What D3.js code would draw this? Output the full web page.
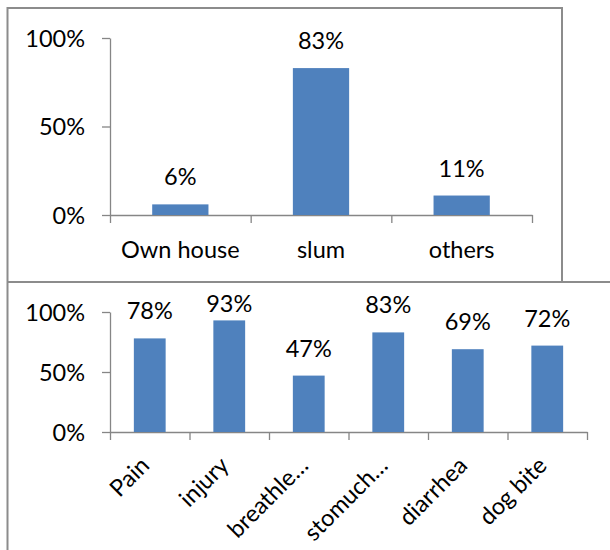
<!DOCTYPE html>
<html>
<head>
<meta charset="utf-8">
<script src="https://cdn.jsdelivr.net/npm/d3@7"></script>
<style>
  body { margin: 0; background: #fff; }
  text { font-family: Lato, "Open Sans", sans-serif; fill: #000; }
</style>
</head>
<body>
<div id="chart"></div>
<script>
// data
const residenceCategories = ["Own house", "slum", "others"]
const residenceValues = [0.06, 0.83, 0.11]
const illnessCategories = ["Pain", "injury", "breathle…", "stomuch…", "diarrhea", "dog bite"]
const illnessValues = [0.78, 0.93, 0.47, 0.83, 0.69, 0.72]
const percentTicks = [0, 0.5, 1]

const width = 610
const height = 550
const barColor = "#4f81bd"
const axisColor = "#868686"
const borderColor = "#8c8c8c"
const fontSize = 23.5

const svg = d3.select("#chart")
  .append("svg")
  .attr("width", width)
  .attr("height", height)

// panel borders
svg.append("path")
  .attr("d", "M7.5,550 V282 H610 M7.5,282 V8 H562 V282")
  .attr("fill", "none")
  .attr("stroke", borderColor)
  .attr("stroke-width", 2)

const fmt = d3.format(".0%")

function drawPanel(categories, values, opts) {
  const g = svg.append("g")

  const x = d3.scaleBand()
    .domain(categories)
    .range([opts.left, opts.right])
    .paddingInner(0.6)
    .paddingOuter(0.3)

  // band edges for the tick marks
  const edges = d3.scaleLinear()
    .domain([0, categories.length])
    .range([opts.left, opts.right])

  const y = d3.scaleLinear()
    .domain([0, 1])
    .range([opts.bottom, opts.top])

  // y axis
  const yAxis = g.append("g")
    .attr("transform", `translate(${opts.left},0)`)
    .call(d3.axisLeft(y).tickValues(percentTicks).tickFormat(fmt).tickSize(8).tickSizeOuter(0).tickPadding(17))

  // x axis
  g.append("g")
    .attr("transform", `translate(0,${opts.bottom})`)
    .call(d3.axisBottom(edges).tickValues(d3.range(categories.length + 1)).tickFormat("").tickSize(8).tickSizeOuter(0))

  g.selectAll(".domain, .tick line").attr("stroke", axisColor).attr("stroke-width", 1.3)
  yAxis.selectAll("text").attr("font-size", fontSize).attr("font-family", "Lato, sans-serif").attr("dy", "0.35em")

  // bars
  g.selectAll("rect.bar")
    .data(values)
    .enter()
    .append("rect")
    .attr("class", "bar")
    .attr("x", (d, i) => x(categories[i]))
    .attr("width", x.bandwidth())
    .attr("y", d => y(d))
    .attr("height", d => y(0) - y(d))
    .attr("fill", barColor)

  // value labels
  g.selectAll("text.value")
    .data(values)
    .enter()
    .append("text")
    .attr("class", "value")
    .attr("x", (d, i) => x(categories[i]) + x.bandwidth() / 2)
    .attr("y", d => Math.max(y(d) - 19, opts.panelTop + 30))
    .attr("text-anchor", "middle")
    .attr("font-size", fontSize)
    .text(d => fmt(d))

  // category labels
  const labels = g.selectAll("text.cat")
    .data(categories)
    .enter()
    .append("text")
    .attr("class", "cat")
    .attr("font-size", fontSize)
    .text(d => d)

  if (opts.rotate) {
    labels
      .attr("text-anchor", "end")
      .attr("transform", d => `translate(${x(d) + x.bandwidth() / 2 + 1},${opts.bottom + 35}) rotate(-45)`)
  } else {
    labels
      .attr("text-anchor", "middle")
      .attr("x", d => x(d) + x.bandwidth() / 2)
      .attr("y", opts.bottom + 43)
  }
}

drawPanel(residenceCategories, residenceValues, {
  left: 110, right: 532, top: 38, bottom: 215, panelTop: 8, rotate: false
})

drawPanel(illnessCategories, illnessValues, {
  left: 110, right: 587, top: 312, bottom: 432, panelTop: 282, rotate: true
})
</script>
</body>
</html>
